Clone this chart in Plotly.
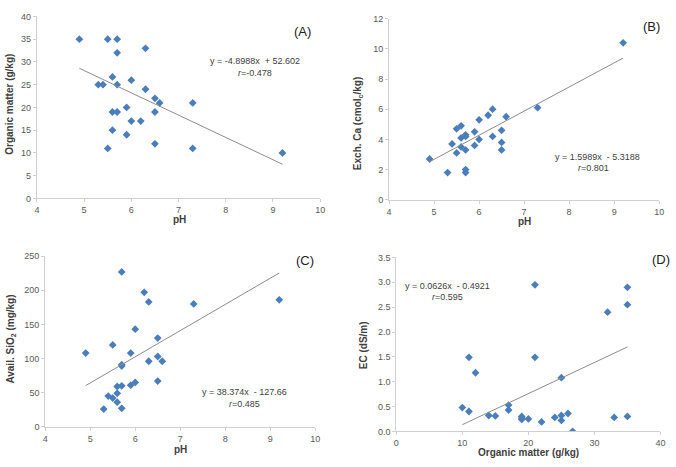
import plotly.graph_objects as go

W, H = 676, 467

# ---- data ----
ph_a = [4.9, 5.5, 5.7, 6.3, 5.7, 5.6, 6.0, 5.3, 5.4, 5.7, 6.3, 6.5, 6.6, 7.3, 5.9, 5.6, 5.7, 6.5, 6.0, 6.2, 5.6, 5.9, 6.5, 5.5, 7.3, 9.2]
om_a = [35, 35, 35, 33, 32, 26.7, 26, 25, 25, 25, 24, 22, 21, 21, 20, 19, 19, 19, 17, 17, 15, 14, 12, 11, 11, 10]

ph_b = [9.2, 7.3, 6.3, 6.2, 6.6, 6.0, 5.6, 5.5, 6.5, 5.9, 5.7, 5.7, 6.3, 5.6, 6.0, 6.5, 5.4, 5.9, 5.6, 6.5, 5.7, 5.5, 4.9, 5.7, 5.3, 5.7]
ca_b = [10.4, 6.1, 6.0, 5.6, 5.5, 5.3, 4.9, 4.7, 4.6, 4.5, 4.3, 4.2, 4.2, 4.1, 4.0, 3.8, 3.7, 3.6, 3.5, 3.3, 3.3, 3.1, 2.7, 2.0, 1.8, 1.8]

ph_c = [5.7, 6.2, 9.2, 6.3, 7.3, 6.0, 6.5, 5.5, 4.9, 5.9, 6.5, 6.3, 6.6, 5.7, 5.7, 6.5, 6.0, 5.9, 5.7, 5.6, 5.6, 5.4, 5.5, 5.6, 5.7, 5.3]
si_c = [227, 197, 186, 183, 180, 143, 130, 120, 108, 108, 103, 96, 96, 91, 89, 67, 65, 61, 60, 59, 49, 45, 42, 36, 27, 26]

om_d = [21, 35, 35, 32, 11, 21, 12, 25, 10, 17, 17, 11, 26, 14, 15, 25, 19, 19, 19, 20, 24, 33, 35, 25, 22, 26.7]
ec_d = [2.95, 2.9, 2.55, 2.4, 1.49, 1.49, 1.18, 1.08, 0.48, 0.53, 0.43, 0.40, 0.36, 0.32, 0.31, 0.32, 0.30, 0.27, 0.24, 0.25, 0.28, 0.28, 0.30, 0.22, 0.19, 0.0]

slopes = [-4.8988, 1.5989, 38.374, 0.0626]
intercepts = [52.602, -5.3188, -127.66, -0.4921]
eq_texts = ["y = -4.8988x  + 52.602", "y = 1.5989x  - 5.3188", "y = 38.374x  - 127.66", "y = 0.0626x  - 0.4921"]
r_texts = ["<i>r</i>=-0.478", "<i>r</i>=0.801", "<i>r</i>=0.485", "<i>r</i>=0.595"]
panel_labels = ["(A)", "(B)", "(C)", "(D)"]
x_titles = ["pH", "pH", "pH", "Organic matter (g/kg)"]
y_titles = ["Organic matter (g/kg)", "Exch. Ca (cmol<sub>c</sub>/kg)", "Avail. SiO<sub>2</sub> (mg/kg)", "EC (dS/m)"]
x_ranges = [[4, 10], [4, 10], [4, 10], [0, 40]]
x_dticks = [1, 1, 1, 10]
y_ranges = [[0, 40], [0, 12], [0, 250], [0, 3.5]]
y_dticks = [5, 2, 50, 0.5]
y_formats = ["d", "d", "d", ".1f"]

# ---- layout geometry (pixels) ----
boxes = [  # x0, x1, ytop, ybottom
    (34.3, 321.0, 11.7, 197.7),
    (390.7, 664.0, 14.0, 199.0),
    (42.7, 316.0, 256.7, 431.0),
    (398.0, 665.3, 258.0, 435.7),
]
label_pos = [(303, 27), (656, 22), (306, 261), (666, 260)]
eq_pos = [(255, 57), (602, 155), (244, 395), (450, 287)]
r_pos = [(255, 69), (598, 167), (244, 408), (450, 298)]
xt_pos = [(179, 219), (528, 221), (180, 454), (532, 457)]
yt_pos = [(7, 101), (360, 121), (8, 341), (365, 348)]

xs = [ph_a, ph_b, ph_c, om_d]
ys = [om_a, ca_b, si_c, ec_d]

fig = go.Figure()
FONT = "Liberation Sans, Arial, sans-serif"
BLUE = "#4a7ebb"
AX = "#d0d0d0"
TICKC = "#595959"

annotations = []
for i in range(4):
    n = "" if i == 0 else str(i + 1)
    xa, ya = "x" + n, "y" + n
    fig.add_trace(go.Scatter(
        x=xs[i], y=ys[i], mode="markers", xaxis=xa, yaxis=ya,
        marker=dict(symbol="diamond", size=6, color=BLUE, line=dict(width=0)),
        showlegend=False, hoverinfo="x+y"))
    x0, x1 = min(xs[i]), max(xs[i])
    fig.add_trace(go.Scatter(
        x=[x0, x1], y=[slopes[i] * x0 + intercepts[i], slopes[i] * x1 + intercepts[i]],
        mode="lines", xaxis=xa, yaxis=ya,
        line=dict(color="#8c8c8c", width=1), showlegend=False, hoverinfo="skip"))
    bx0, bx1, byt, byb = boxes[i]
    common = dict(showgrid=False, zeroline=False, showline=True, linecolor=AX, linewidth=1,
                  ticks="outside", ticklen=3, tickcolor=AX, tickwidth=1,
                  tickfont=dict(family=FONT, size=9, color=TICKC))
    fig.layout["xaxis" + n] = dict(domain=[bx0 / W, bx1 / W], anchor=ya, range=x_ranges[i],
                                   dtick=x_dticks[i], tick0=0, **common)
    fig.layout["yaxis" + n] = dict(domain=[1 - byb / H, 1 - byt / H], anchor=xa, range=y_ranges[i],
                                   dtick=y_dticks[i], tick0=0, tickformat=y_formats[i], **common)

    def ann(text, pos, size, color, bold=False, angle=0):
        t = "<b>" + text + "</b>" if bold else text
        annotations.append(dict(text=t, x=pos[0] / W, y=1 - pos[1] / H, xref="paper", yref="paper",
                                xanchor="center", yanchor="middle", showarrow=False, textangle=angle,
                                font=dict(family=FONT, size=size, color=color)))
    ann(panel_labels[i], label_pos[i], 13, "#222222")
    ann(eq_texts[i], eq_pos[i], 9, "#404040")
    ann(r_texts[i], r_pos[i], 9, "#404040")
    ann(x_titles[i], xt_pos[i], 10, "#404040", bold=True)
    ann(y_titles[i], yt_pos[i], 10, "#404040", bold=True, angle=-90)

fig.update_layout(width=W, height=H, margin=dict(l=0, r=0, t=0, b=0),
                  paper_bgcolor="white", plot_bgcolor="white", annotations=annotations)
fig.write_html("out.html")
